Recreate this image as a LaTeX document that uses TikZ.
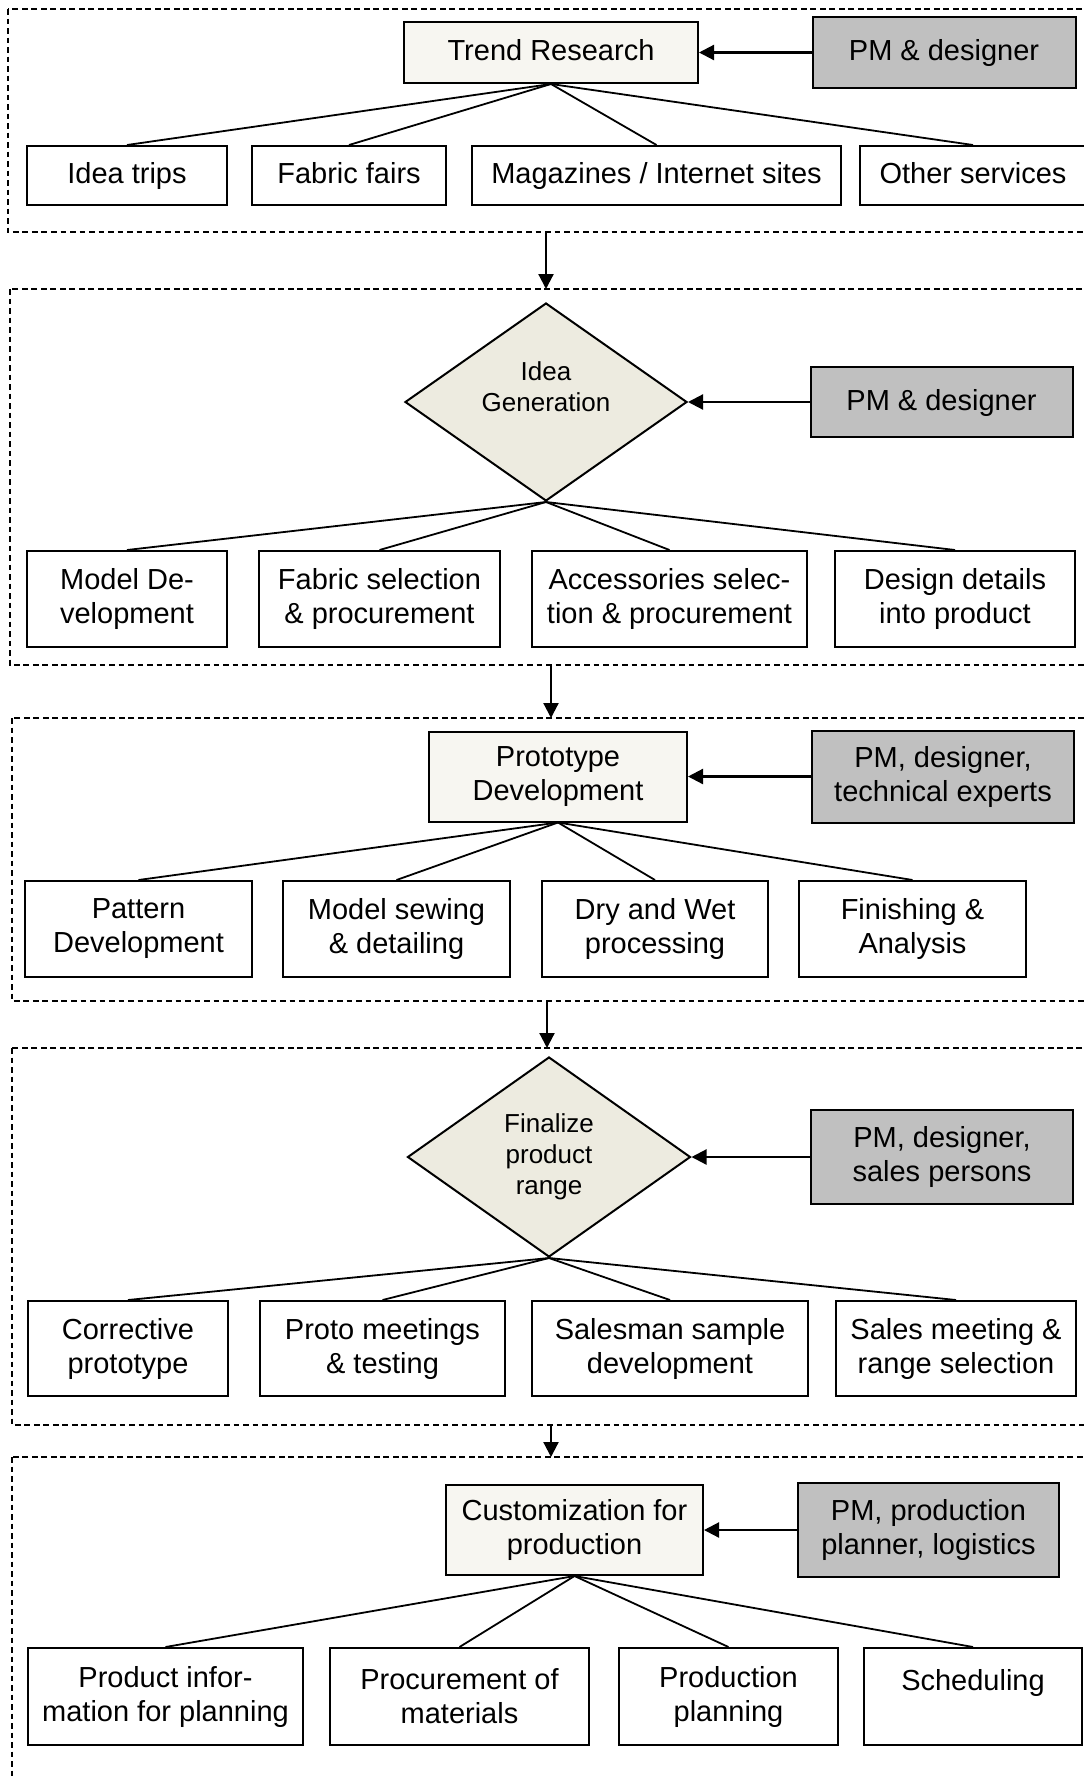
\documentclass[tikz,border=0pt]{standalone}
\usepackage{fontspec}
\setmainfont{Liberation Sans}
\usetikzlibrary{arrows.meta,shapes.geometric}

\definecolor{cream}{HTML}{F7F6F1}
\definecolor{diamondfill}{HTML}{EDEBE0}
\definecolor{rolegray}{HTML}{C0C0C0}

\newcommand\boxfont{\fontsize{29}{34}\selectfont}
\newcommand\diafont{\fontsize{26}{31}\selectfont}

\tikzset{
  sz/.style 2 args={minimum width=#1pt, minimum height=#2pt},
  box/.style={draw, line width=2pt, fill=white, inner sep=0pt, align=center, font=\boxfont},
  oneline/.style={text height=21pt, text depth=5pt},
  topbox/.style={box, fill=cream},
  rolebox/.style={box, fill=rolegray},
  decision/.style={diamond, shape aspect=1.42, draw, line width=2pt, fill=diamondfill,
                   inner sep=0pt, align=center, font=\diafont},
  fanline/.style={line width=1.8pt},
  arr/.style={line width=2.2pt, -{Triangle[length=15pt,width=15pt]}},
  section/.style={draw, dash pattern=on 5.7pt off 3.8pt, line width=2.3pt},
}

\begin{document}
\begin{tikzpicture}[x=1pt, y=-1pt]
\useasboundingbox (0,0) rectangle (1084,1778);
\clip (0,0) rectangle (1084,1778);
\fill[white] (0,0) rectangle (1084,1778);

% ---------- stage frames ----------
\draw[section] (8,9) rectangle (1120,232);
\draw[section] (10,289) rectangle (1120,665);
\draw[section] (12,718) rectangle (1120,1001);
\draw[section] (12,1048) rectangle (1120,1425);
\draw[section] (12,1457) rectangle (1120,1820);

% ---------- stage 1: trend research ----------
\node[topbox, oneline, sz={294}{61}] (trend) at (551,52.5) {Trend Research};
\node[rolebox, oneline, sz={263}{71}] (pm1) at (944,52.5) {PM \& designer};
\draw[arr] (pm1) -- (trend);
\node[box, oneline, sz={200}{59}] (ideatrips) at (127,175.5) {Idea trips};
\node[box, oneline, sz={194}{59}] (fabricfairs) at (349,175.5) {Fabric fairs};
\node[box, oneline, sz={369}{59}] (magazines) at (656.5,175.5) {Magazines / Internet sites};
\node[box, oneline, sz={226}{59}] (otherserv) at (973,175.5) {Other services};
\foreach \c in {ideatrips,fabricfairs,magazines,otherserv}
  \draw[fanline] (trend.south) -- (\c.north);

% ---------- stage 2: idea generation ----------
\node[decision, minimum width=282pt, minimum height=198pt] (ideagen) at (546,402)
  {Idea\\Generation\\\mbox{}};
\node[rolebox, oneline, sz={262}{70}] (pm2) at (941.5,402) {PM \& designer};
\draw[arr] (pm2) -- (ideagen.east);
\node[box, sz={200}{96}] (modeldev) at (127,599) {Model De-\\velopment};
\node[box, sz={241}{96}] (fabricsel) at (379.5,599) {Fabric selection\\\& procurement};
\node[box, sz={275}{96}] (accessories) at (669.5,599) {Accessories selec-\\tion \& procurement};
\node[box, sz={240}{96}] (designdet) at (955,599) {Design details\\into product};
\foreach \c in {modeldev,fabricsel,accessories,designdet}
  \draw[fanline] (ideagen.south) -- (\c.north);

% ---------- stage 3: prototype development ----------
\node[topbox, sz={258}{90}] (proto) at (558,776.5) {Prototype\\Development};
\node[rolebox, sz={262}{92}] (pm3) at (943,776.5) {PM, designer,\\technical experts};
\draw[arr] (pm3) -- (proto);
\node[box, sz={227}{96}] (pattern) at (138.5,929) {Pattern\\Development};
\node[box, sz={227}{96}] (modelsew) at (396.5,929) {Model sewing\\\& detailing};
\node[box, sz={226}{96}] (drywet) at (655,929) {Dry and Wet\\processing};
\node[box, sz={227}{96}] (finishing) at (912.5,929) {Finishing \&\\Analysis};
\foreach \c in {pattern,modelsew,drywet,finishing}
  \draw[fanline] (proto.south) -- (\c.north);

% ---------- stage 4: finalize product range ----------
\node[decision, minimum width=283pt, minimum height=200pt] (finalize) at (549,1157)
  {Finalize\\product\\range};
\node[rolebox, sz={262}{94}] (pm4) at (942,1157) {PM, designer,\\sales persons};
\draw[arr] (pm4) -- (finalize.east);
\node[box, sz={200}{95}] (corrective) at (128,1348.5) {Corrective\\prototype};
\node[box, sz={245}{95}] (protomeet) at (382.5,1348.5) {Proto meetings\\\& testing};
\node[box, sz={276}{95}] (salesman) at (670,1348.5) {Salesman sample\\development};
\node[box, sz={240}{95}] (salesmeet) at (956,1348.5) {Sales meeting \&\\range selection};
\foreach \c in {corrective,protomeet,salesman,salesmeet}
  \draw[fanline] (finalize.south) -- (\c.north);

% ---------- stage 5: customization for production ----------
\node[topbox, sz={257}{90}] (custom) at (574.5,1530) {Customization for\\production};
\node[rolebox, sz={261}{94}] (pm5) at (928.5,1530) {PM, production\\planner, logistics};
\draw[arr] (pm5) -- (custom);
\node[box, sz={275}{97}] (prodinfo) at (165.5,1696.5) {Product infor-\\mation for planning};
\node[box, sz={259}{97}] (procure) at (459.5,1696.5) {Procurement of\\materials};
\node[box, sz={219}{97}] (prodplan) at (728.5,1696.5) {Production\\planning};
\node[box, sz={218}{97}] (sched) at (973,1696.5) {Scheduling\\\mbox{}};
\foreach \c in {prodinfo,procure,prodplan,sched}
  \draw[fanline] (custom.south) -- (\c.north);

% ---------- flow between stages ----------
\coordinate (s1out) at (546,232);  \coordinate (s2in) at (546,289);
\coordinate (s2out) at (551,665);  \coordinate (s3in) at (551,718);
\coordinate (s3out) at (547,1000); \coordinate (s4in) at (547,1048);
\coordinate (s4out) at (551,1425); \coordinate (s5in) at (551,1457);
\draw[arr] (s1out) -- (s2in);
\draw[arr] (s2out) -- (s3in);
\draw[arr] (s3out) -- (s4in);
\draw[arr] (s4out) -- (s5in);
\end{tikzpicture}
\end{document}
